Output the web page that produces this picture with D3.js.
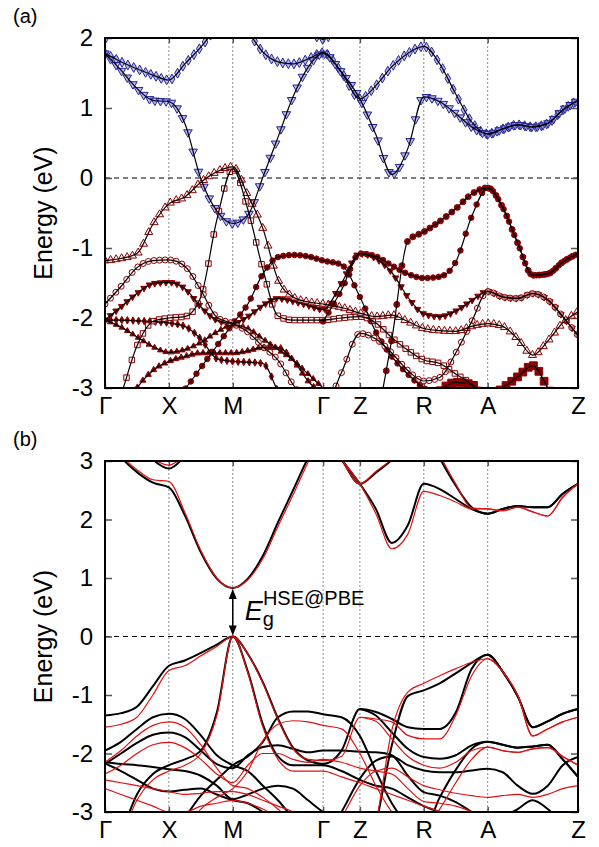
<!DOCTYPE html>
<html>
<head>
<meta charset="utf-8">
<script src="https://cdn.jsdelivr.net/npm/d3@7/dist/d3.min.js"></script>
<style>
  body { margin: 0; background: #fff; }
  text { font-family: "Liberation Sans", Arial, sans-serif; }
</style>
</head>
<body>
<div id="chart-area"></div>
<script>

var width = 599,
    height = 847;

// k-path (high symmetry points) and the k grid the energies are read on
var kLabels = ["Γ", "X", "M", "Γ", "Z", "R", "A", "Z"];
var kTicks = [0, 1, 2, 3.414, 3.99, 4.99, 5.99, 7.404];
var kGrid = [0, 0.25, 0.5, 0.75, 1, 1.25, 1.5, 1.75, 2, 2.236, 2.471, 2.707, 2.943, 3.178, 3.414,
             3.702, 3.99, 4.24, 4.49, 4.74, 4.99, 5.24, 5.49, 5.74, 5.99,
             6.225, 6.46, 6.695, 6.93, 7.165, 7.404];

var ticksA = [-3, -2, -1, 0, 1, 2];
var ticksB = [-3, -2, -1, 0, 1, 2, 3];
var gapB = 0.83;   // E_g at M in panel (b)

var n = null;

// ---- panel (a): conduction bands (blue) ----
var aB1 = [1.78,1.66,1.56,1.47,1.40,1.63,1.87,2.15,2.4,2.1,1.80,1.66,1.63,1.70,1.79,1.51,1.13,1.32,1.59,1.78,1.88,1.63,1.2,0.8,0.63,0.70,0.76,0.73,0.78,0.97,1.11];
var aB2 = [1.78,1.54,1.28,1.11,1.09,0.78,-0.01,-0.47,-0.65,-0.53,0.01,0.58,1.16,1.58,1.78,1.51,1.13,0.62,0.05,0.42,1.16,1.09,0.92,0.73,0.63,0.70,0.76,0.73,0.78,0.97,1.11];
var aB3 = [1.98,2.25,2.5,2.7,2.8,2.8,2.7,2.6,2.5,2.5,2.5,2.45,2.3,2.12,1.98,2.25,2.5,2.6,2.7,2.8,2.8,2.8,2.8,2.8,2.8,2.8,2.8,2.8,2.8,2.8,2.8];

// ---- panel (a): valence bands (dark red) ----
var aR1 = [-1.18,-1.15,-1.08,-0.66,-0.37,-0.27,-0.06,0.09,0.16,-0.25,-0.72,-1.45,-1.7,-1.77,-1.8,-1.85,-1.93,-1.98,-1.96,-2.05,-2.15,-2.18,-2.19,-2.12,-2.08,-2.12,-2.3,-2.53,-2.33,-2.07,-1.91];
var aR2 = [-1.80,-1.55,-1.28,-1.18,-1.17,-1.26,-1.6,-1.99,-2.08,-2.2,-2.41,-2.6,-2.95,-3.2,-3.3,-2.78,-2.22,-2.3,-2.5,-2.75,-2.9,-2.85,-2.5,-2.05,-1.62,-1.7,-1.72,-1.65,-1.74,-1.98,-2.25];
var aR3 = [-2.03,-1.84,-1.65,-1.51,-1.49,-1.58,-1.84,-2.03,-2.08,-1.98,-1.82,-1.72,-1.76,-1.82,-1.88,-1.5,-1.08,-1.15,-1.35,-1.7,-1.94,-1.98,-1.9,-1.75,-1.62,-1.7,-1.72,-1.65,-1.74,-1.98,-2.25];
var aR4 = [-3.7,-3.1,-2.4,-2.05,-2.0,-1.98,-1.7,-0.6,0.13,-0.45,-1.3,-1.97,-2.03,-2.03,-2.03,-2.0,-1.98,-2.07,-2.28,-2.46,-2.6,-2.65,-2.8,-2.95,-3.2,-3.5,-3.8,n,n,n,n];
var aR5 = [-2.03,-2.13,-2.27,-2.41,-2.49,-2.45,-2.35,-2.2,-2.1,-2.15,-2.3,-2.45,-2.6,-2.8,-3.0,n,n,n,n,n,n,n,n,n,n,n,n,n,n,n,n];
var aR6 = [-2.03,-2.03,-2.04,-2.05,-2.07,-2.12,-2.3,-2.58,-2.62,-2.63,-2.65,-3.05,-3.5,n,n,n,n,n,n,n,n,n,n,n,n,n,n,n,n,n,n];
var aR7 = [n,n,n,n,-3.3,-3.02,-2.71,-2.4,-2.08,-1.8,-1.37,-1.13,-1.1,-1.12,-1.18,-1.24,-1.7,-2.2,-2.55,-2.8,-3.0,-3.1,-3.3,n,n,n,n,n,n,n,n];
var aR8 = [-3.6,-3.4,-3.0,-2.75,-2.62,-2.55,-2.5,-2.5,-2.5,-2.47,-2.42,-2.42,-2.6,-2.9,-3.1,n,n,n,n,n,n,n,n,n,n,n,n,n,n,n,n];
var aM1 = [n,n,n,n,n,n,n,n,n,n,n,n,n,n,-2.05,-1.6,-1.08,-1.12,-1.25,-1.37,-1.43,-1.41,-1.2,-0.55,-0.14,-0.42,-0.93,-1.39,-1.37,-1.2,-1.08];
var aT  = [n,n,n,n,n,n,n,n,n,n,n,n,n,n,n,n,-4.2,-3.5,-2.3,-0.9,-0.77,-0.62,-0.44,-0.23,-0.14,-0.42,-0.93,-1.39,-1.37,-1.2,-1.08];
var aBS = [n,n,n,n,n,n,n,n,n,n,n,n,n,n,n,n,n,n,n,n,-3.4,-3.05,-2.92,-2.95,-3.15,-3.0,-2.84,-2.68,-3.0,-3.4,-3.6];

// ---- panel (b): black bands ----
var bK1 = [3.5,3.07,2.81,2.63,2.55,2.07,1.44,0.99,0.83,0.99,1.38,1.95,2.5,3.05,3.5,3.03,2.61,2.18,1.6,1.9,2.61,2.52,2.35,2.18,2.10,2.18,2.23,2.21,2.21,2.44,2.61];
var bK2 = [3.8,3.55,3.3,3.02,2.87,3.08,3.4,3.7,3.9,3.9,3.9,3.9,3.8,3.6,3.5,3.03,2.61,2.8,3.02,3.3,3.6,3.9,3.9,3.9,3.9,3.9,3.9,3.9,3.9,3.9,3.9];
var bK3 = [n,n,n,n,n,n,n,n,n,n,n,n,n,n,n,n,n,n,n,n,3.6,3.05,2.58,2.21,2.10,2.18,2.23,2.21,2.21,2.44,2.61];
var bKv1 = [-1.35,-1.31,-1.2,-0.85,-0.5,-0.41,-0.28,-0.14,0,-0.3,-0.78,-1.4,-1.9,-2.12,-2.18,-1.95,-1.24,-1.29,-1.41,-1.55,-1.58,-1.58,-1.3,-0.55,-0.31,-0.6,-1.02,-1.55,-1.45,-1.32,-1.24];
var bKT = [n,n,n,n,n,n,n,n,n,n,n,n,n,n,n,n,-4.0,-3.2,-1.86,-1.02,-0.92,-0.8,-0.63,-0.45,-0.31,-0.6,-1.02,-1.55,-1.45,-1.32,-1.24];
var bKr7 = [n,n,n,n,-3.5,-3.1,-2.72,-2.45,-2.2,-2.05,-1.8,-1.38,-1.28,-1.28,-1.33,-1.38,-1.7,-2.3,-2.85,-3.2,-3.3,-2.75,-2.28,-1.92,-1.8,-1.85,-1.9,-1.88,-1.85,-2.1,-2.4];
var bKv2 = [n,n,n,n,n,n,n,n,n,n,n,n,n,n,n,n,-1.24,-1.35,-1.64,-1.92,-2.06,-2.09,-2.03,-1.86,-1.8,-1.85,-1.9,-1.88,-1.85,-2.1,-2.4];
var bKc1 = [-1.95,-1.8,-1.58,-1.38,-1.32,-1.41,-1.69,-2.03,-2.2,-2.3,-2.55,-2.8,-3.1,-3.35,-3.5,-3.0,-2.43,-2.12,-2.05,-2.2,-2.29,-2.32,-2.32,-2.29,-2.26,-2.32,-2.55,-2.69,-2.55,-2.2,-2.06];
var bKv3 = [-2.18,-2.0,-1.82,-1.68,-1.64,-1.72,-1.95,-2.18,-2.25,-2.03,-1.89,-1.86,-1.92,-1.98,-1.95,-1.95,-1.97,-1.98,-2.03,-2.38,-2.66,-2.72,-2.83,-3.0,-3.2,n,n,n,n,n,n];
var bKs = [-4.2,-3.4,-2.7,-2.35,-2.2,-2.1,-1.95,-1.3,0,-0.6,-1.5,-2.05,-2.2,-2.2,-2.2,-2.3,-2.45,-2.55,-2.6,-2.75,-2.9,-3.0,-3.1,-3.3,n,n,n,n,n,n,n];
var bKf1 = [-2.15,-2.18,-2.2,-2.23,-2.27,-2.3,-2.38,-2.55,-2.78,-2.7,-2.6,-2.55,-2.6,-2.8,-3.0,-3.2,n,n,n,n,n,n,n,n,n,n,n,n,n,n,n];
var bKf2 = [-2.17,-2.3,-2.45,-2.6,-2.65,-2.62,-2.6,-2.7,-2.8,-2.85,-3.0,-3.2,n,n,n,n,n,n,n,n,n,n,n,n,n,n,n,n,n,n,n];
var bKbs = [n,n,n,n,n,n,n,n,n,n,n,n,n,n,n,n,n,n,n,n,-3.5,-3.3,-3.1,-3.2,-3.3,-3.1,-2.95,-2.8,-2.95,-3.2,-3.4];

// ---- panel (b): red bands ----
var bR1 = [3.5,3.1,2.85,2.68,2.65,2.12,1.47,1.0,0.83,0.97,1.33,1.88,2.42,2.98,3.5,3.03,2.61,2.1,1.5,1.75,2.48,2.41,2.3,2.18,2.18,2.15,2.21,2.13,2.06,2.38,2.61];
var bR2 = [3.8,3.6,3.35,3.05,2.93,3.1,3.4,3.7,3.9,3.9,3.9,3.9,3.8,3.6,3.5,3.03,2.61,2.82,3.03,3.3,3.6,3.9,3.9,3.9,3.9,3.9,3.9,3.9,3.9,3.9,3.9];
var bR3 = [n,n,n,n,n,n,n,n,n,n,n,n,n,n,n,n,n,n,n,n,3.6,3.1,2.61,2.2,2.18,2.15,2.21,2.13,2.06,2.38,2.61];
var bRv1 = [-1.55,-1.5,-1.38,-1.0,-0.58,-0.5,-0.33,-0.17,0,-0.3,-0.8,-1.42,-1.92,-2.1,-2.12,-2.05,-1.38,-1.41,-1.46,-1.69,-1.75,-1.75,-1.35,-0.67,-0.38,-0.6,-1.0,-1.7,-1.58,-1.46,-1.38];
var bRT = [n,n,n,n,n,n,n,n,n,n,n,n,n,n,n,n,-4.0,-3.2,-1.6,-0.95,-0.8,-0.67,-0.55,-0.44,-0.38,-0.6,-1.0,-1.7,-1.58,-1.46,-1.38];
var bRr7 = [n,n,n,n,-3.6,-3.3,-2.95,-2.75,-2.6,-2.3,-1.78,-1.5,-1.44,-1.46,-1.52,-1.58,-2.0,-2.55,-3.0,-3.3,-3.3,-2.95,-2.5,-2.1,-1.89,-1.95,-1.98,-1.92,-1.9,-2.05,-2.2];
var bRv2 = [n,n,n,n,n,n,n,n,n,n,n,n,n,n,n,n,-1.38,-1.45,-1.75,-2.05,-2.2,-2.25,-2.15,-1.95,-1.89,-1.95,-1.98,-1.92,-1.9,-2.05,-2.2];
var bRc1 = [-2.15,-1.95,-1.7,-1.52,-1.46,-1.55,-1.85,-2.25,-2.55,-2.6,-2.75,-2.95,-3.2,-3.4,-3.6,-3.1,-2.55,-2.3,-2.25,-2.4,-2.55,-2.62,-2.68,-2.72,-2.75,-2.72,-2.7,-2.75,-2.7,-2.6,-2.55];
var bRv3 = [-2.35,-2.2,-2.0,-1.85,-1.81,-1.9,-2.1,-2.35,-2.5,-2.2,-2.0,-2.0,-2.1,-2.15,-2.1,-2.15,-2.25,-2.3,-2.35,-2.6,-2.82,-2.85,-2.9,-3.0,-3.2,n,n,n,n,n,n];
var bRs = [-4.2,-3.45,-2.8,-2.45,-2.3,-2.2,-2.0,-1.35,0,-0.62,-1.55,-2.1,-2.3,-2.3,-2.3,-2.4,-2.5,-2.6,-2.7,-2.8,-2.9,-3.0,-3.2,n,n,n,n,n,n,n,n];
var bRf1 = [-2.45,-2.5,-2.55,-2.6,-2.65,-2.7,-2.68,-2.65,-2.65,-2.7,-2.8,-2.9,-3.0,-3.2,n,n,n,n,n,n,n,n,n,n,n,n,n,n,n,n,n];
var bRf2 = [-2.6,-2.7,-2.8,-2.9,-3.0,-3.0,-2.9,-2.85,-2.8,-2.85,-2.95,-3.1,n,n,n,n,n,n,n,n,n,n,n,n,n,n,n,n,n,n,n];


var blue = "#22229a", blueFill = "rgba(130,130,220,0.55)";
var dred = "#8b0000", redFill = "rgba(255,235,235,0.5)";

var bandsA = [
    {v: aB3, c: blue, sym: "diamond", open: true, s: 28},
    {v: aB1, c: blue, sym: "diamond", open: true, s: 28},
    {v: aB2, c: blue, sym: "down", open: true, s: 32},
    {v: aR8, c: dred, sym: "up", open: false, s: 16},
    {v: aR5, c: dred, sym: "up", open: false, s: 14},
    {v: aR6, c: dred, sym: "diamond", open: false, s: 16},
    {v: aR7, c: dred, sym: "circle", open: false, s: 24},
    {v: aR4, c: dred, sym: "square", open: true, s: 30},
    {v: aR3, c: dred, sym: "down", open: false, s: 18},
    {v: aR2, c: dred, sym: "circle", open: true, s: 28},
    {v: aR1, c: dred, sym: "up", open: true, s: 28},
    {v: aM1, c: dred, sym: "circle", open: false, s: 24},
    {v: aT,  c: dred, sym: "circle", open: false, s: 28},
    {v: aBS, c: dred, sym: "square", open: false, s: 60}
];
var blackB = [bK1, bK2, bK3, bKv1, bKT, bKr7, bKv2, bKc1, bKv3, bKs, bKf1, bKf2, bKbs];
var redB = [bR1, bR2, bR3, bRv1, bRT, bRr7, bRv2, bRc1, bRv3, bRs, bRf1, bRf2];

var svg = d3.select("#chart-area").append("svg")
    .attr("width", width)
    .attr("height", height);

var x = d3.scaleLinear().domain([0, 7.404]).range([105, 578]);
var yA = d3.scaleLinear().domain([-3, 2]).range([388, 38]);
var yB = d3.scaleLinear().domain([-3, 3]).range([812, 461]);

function pts(arr) {
    return arr.map(function(e, i) { return {k: kGrid[i], e: e}; });
}

function bandLine(y) {
    return d3.line()
        .defined(function(d) { return d.e !== null; })
        .x(function(d) { return x(d.k); })
        .y(function(d) { return y(d.e); })
        .curve(d3.curveMonotoneX);
}

// Axes, frame, grid lines for one panel
function frame(y, ticks, tag, clipId) {
    var top = y.range()[1], bottom = y.range()[0];

    svg.append("clipPath").attr("id", clipId)
        .append("rect")
        .attr("x", x(0)).attr("y", top)
        .attr("width", x(7.404) - x(0)).attr("height", bottom - top);

    // dotted verticals at high-symmetry points
    svg.append("g").selectAll("line")
        .data(kTicks.slice(1, -1))
        .enter().append("line")
        .attr("x1", function(d) { return x(d); })
        .attr("x2", function(d) { return x(d); })
        .attr("y1", top).attr("y2", bottom)
        .attr("stroke", "#8c8c8c")
        .attr("stroke-width", 1)
        .attr("stroke-dasharray", "2,2");

    // Fermi level
    svg.append("line")
        .attr("x1", x(0)).attr("x2", x(7.404))
        .attr("y1", y(0)).attr("y2", y(0))
        .attr("stroke", "#000")
        .attr("stroke-width", 1.1)
        .attr("stroke-dasharray", "5,4");

    var left = svg.append("g")
        .attr("transform", "translate(" + x(0) + ",0)")
        .call(d3.axisLeft(y).tickValues(ticks).tickSize(-7).tickPadding(12)
            .tickFormat(function(d) { return String(d); }));
    var right = svg.append("g")
        .attr("transform", "translate(" + x(7.404) + ",0)")
        .call(d3.axisRight(y).tickValues(ticks).tickSize(-7).tickFormat(""));
    var bot = svg.append("g")
        .attr("transform", "translate(0," + bottom + ")")
        .call(d3.axisBottom(x).tickValues(kTicks).tickSize(-5).tickPadding(9)
            .tickFormat(function(d, i) { return kLabels[i]; }));
    var topAx = svg.append("g")
        .attr("transform", "translate(0," + top + ")")
        .call(d3.axisTop(x).tickValues(kTicks.slice(1, -1)).tickSize(-5).tickFormat(""));

    [left, right, bot, topAx].forEach(function(a) {
        a.select(".domain").remove();
        a.selectAll(".tick line").attr("stroke", "#555").attr("stroke-width", 1.5);
        a.selectAll("text").attr("font-size", 24).attr("fill", "#000")
            .attr("font-family", "Liberation Sans, Arial, sans-serif");
    });

    svg.append("text")
        .attr("transform", "translate(52," + ((top + bottom) / 2) + ") rotate(-90)")
        .attr("text-anchor", "middle")
        .attr("font-size", 25)
        .text("Energy (eV)");

    svg.append("text")
        .attr("x", 13).attr("y", top - 15)
        .attr("font-size", 20)
        .text(tag);
}

function drawFrameBox(y) {
    var top = y.range()[1], bottom = y.range()[0];
    svg.append("rect")
        .attr("x", x(0)).attr("y", top)
        .attr("width", x(7.404) - x(0)).attr("height", bottom - top)
        .attr("fill", "none")
        .attr("stroke", "#000")
        .attr("stroke-width", 2);
}

// markers spaced evenly in x along a drawn band
function alongPath(node, step) {
    var L = node.getTotalLength(), out = [], nextX = -Infinity;
    for (var s = 0; s <= L; s += 0.8) {
        var p = node.getPointAtLength(s);
        if (p.x >= nextX) { out.push([p.x, p.y]); nextX = p.x + step; }
    }
    return out;
}

var symType = {
    diamond: d3.symbolDiamond, up: d3.symbolTriangle, down: d3.symbolTriangle,
    circle: d3.symbolCircle, square: d3.symbolSquare
};

// ---------------- panel (a) ----------------
frame(yA, ticksA, "(a)", "clipA");

var gA = svg.append("g").attr("clip-path", "url(#clipA)");
var lineA = bandLine(yA);
var markLayer = gA.append("g");
var lineLayer = gA.append("g");

bandsA.forEach(function(b) {
    var p = lineLayer.append("path")
        .datum(pts(b.v))
        .attr("d", lineA)
        .attr("fill", "none")
        .attr("stroke", "#000")
        .attr("stroke-width", 1.2);

    var sym = d3.symbol().type(symType[b.sym]).size(b.s);
    markLayer.append("g").selectAll("path")
        .data(alongPath(p.node(), 5.2))
        .enter().append("path")
        .attr("d", sym)
        .attr("transform", function(d) {
            return "translate(" + d[0] + "," + d[1] + ")" + (b.sym === "down" ? " rotate(180)" : "");
        })
        .attr("fill", b.open ? (b.c === blue ? blueFill : redFill) : b.c)
        .attr("stroke", b.c)
        .attr("stroke-width", 1);
});

drawFrameBox(yA);

// ---------------- panel (b) ----------------
frame(yB, ticksB, "(b)", "clipB");

var gB = svg.append("g").attr("clip-path", "url(#clipB)");
var lineB = bandLine(yB);

gB.selectAll(".black")
    .data(blackB)
    .enter().append("path")
    .attr("class", "black")
    .attr("d", function(d) { return lineB(pts(d)); })
    .attr("fill", "none")
    .attr("stroke", "#000")
    .attr("stroke-width", 2);

gB.selectAll(".red")
    .data(redB)
    .enter().append("path")
    .attr("class", "red")
    .attr("d", function(d) { return lineB(pts(d)); })
    .attr("fill", "none")
    .attr("stroke", "#e01010")
    .attr("stroke-width", 1.2);

drawFrameBox(yB);

// band gap arrow at M
var xm = x(kTicks[2]), y0 = yB(0), y1 = yB(gapB);
svg.append("line")
    .attr("x1", xm).attr("x2", xm)
    .attr("y1", y0 - 8).attr("y2", y1 + 8)
    .attr("stroke", "#000").attr("stroke-width", 1.5);
svg.append("path")
    .attr("d", "M" + xm + "," + (y0 - 1) + "l-4,-10l8,0z M" + xm + "," + (y1 + 1) + "l-4,10l8,0z")
    .attr("fill", "#000");

var lab = svg.append("text")
    .attr("x", xm + 12)
    .attr("y", yB(gapB * 0.33))
    .attr("font-size", 27);
lab.append("tspan").attr("font-style", "italic").text("E");
lab.append("tspan").attr("font-size", 20).attr("dy", 6).text("g");
lab.append("tspan").attr("font-size", 20).attr("dx", -11).attr("dy", -21).text("HSE@PBE");

</script>
</body>
</html>
